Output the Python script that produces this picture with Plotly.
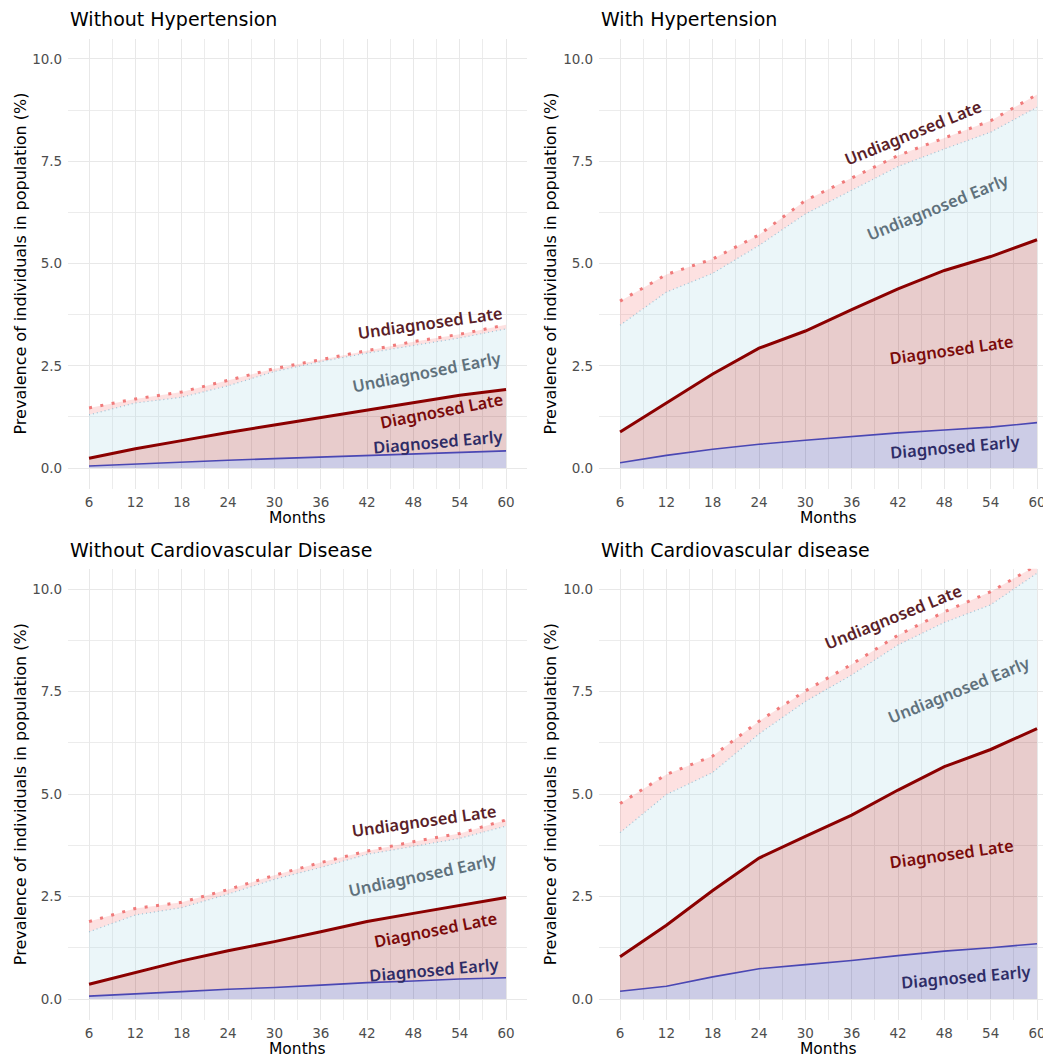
import plotly.graph_objects as go

# the page body has an 8px margin; positions below are screen pixels
OFF = 8
SCREEN_W, SCREEN_H = 1051, 1058
W, H = SCREEN_W - OFF, SCREEN_H - OFF

months = [6, 12, 18, 24, 30, 36, 42, 48, 54, 60]
x_ticks = [6, 12, 18, 24, 30, 36, 42, 48, 54, 60]
y_ticks = [0.0, 2.5, 5.0, 7.5, 10.0]
y_tick_text = ["0.0", "2.5", "5.0", "7.5", "10.0"]

panel_titles = ["Without Hypertension", "With Hypertension",
                "Without Cardiovascular Disease", "With Cardiovascular disease"]

categories = ["Diagnosed Early", "Diagnosed Late", "Undiagnosed Early", "Undiagnosed Late"]

# prevalence (%) of each category, per panel
no_htn_diag_early = [0.05, 0.10, 0.14, 0.19, 0.23, 0.27, 0.31, 0.35, 0.39, 0.42]
no_htn_diag_late = [0.19, 0.37, 0.53, 0.68, 0.82, 0.96, 1.11, 1.25, 1.39, 1.50]
no_htn_undiag_early = [1.06, 1.12, 1.06, 1.14, 1.31, 1.37, 1.39, 1.40, 1.40, 1.48]
no_htn_undiag_late = [0.17, 0.10, 0.13, 0.13, 0.07, 0.05, 0.06, 0.09, 0.09, 0.10]

htn_diag_early = [0.13, 0.31, 0.46, 0.58, 0.68, 0.77, 0.86, 0.93, 1.00, 1.11]
htn_diag_late = [0.75, 1.28, 1.84, 2.35, 2.67, 3.10, 3.52, 3.90, 4.17, 4.47]
htn_undiag_early = [2.61, 2.71, 2.46, 2.51, 2.86, 2.91, 2.99, 2.97, 3.04, 3.24]
htn_undiag_late = [0.59, 0.43, 0.35, 0.26, 0.33, 0.30, 0.27, 0.27, 0.28, 0.31]

no_cvd_diag_early = [0.07, 0.12, 0.18, 0.24, 0.28, 0.34, 0.40, 0.44, 0.49, 0.52]
no_cvd_diag_late = [0.29, 0.53, 0.75, 0.94, 1.12, 1.30, 1.49, 1.65, 1.80, 1.96]
no_cvd_undiag_early = [1.28, 1.40, 1.30, 1.38, 1.52, 1.57, 1.64, 1.64, 1.63, 1.74]
no_cvd_undiag_late = [0.25, 0.16, 0.13, 0.11, 0.10, 0.12, 0.08, 0.11, 0.12, 0.15]

cvd_diag_early = [0.19, 0.31, 0.54, 0.74, 0.84, 0.94, 1.06, 1.17, 1.25, 1.35]
cvd_diag_late = [0.84, 1.49, 2.11, 2.70, 3.13, 3.55, 4.04, 4.50, 4.84, 5.25]
cvd_undiag_early = [3.03, 3.19, 2.88, 3.03, 3.29, 3.42, 3.54, 3.52, 3.53, 3.79]
cvd_undiag_late = [0.71, 0.49, 0.40, 0.31, 0.26, 0.26, 0.24, 0.26, 0.32, 0.20]

panel_series = [
    [no_htn_diag_early, no_htn_diag_late, no_htn_undiag_early, no_htn_undiag_late],
    [htn_diag_early, htn_diag_late, htn_undiag_early, htn_undiag_late],
    [no_cvd_diag_early, no_cvd_diag_late, no_cvd_undiag_early, no_cvd_undiag_late],
    [cvd_diag_early, cvd_diag_late, cvd_undiag_early, cvd_undiag_late],
]

# label anchors (month, value) and angle, per panel and category
label_pos = [
    [(51.2, 0.65, -5), (51.6, 1.41, -11), (49.8, 2.36, -11), (50.2, 3.56, -8)],
    [(49.5, 0.53, -5), (48.9, 2.90, -8), (47.2, 6.39, -22), (43.9, 8.20, -22)],
    [(50.7, 0.73, -5), (50.8, 1.70, -11), (49.3, 3.04, -12), (49.4, 4.36, -8)],
    [(50.9, 0.55, -5), (48.9, 3.56, -8), (49.9, 7.56, -22), (41.4, 9.34, -22)],
]

fill_colors = ["rgba(0,0,128,0.2)", "rgba(139,0,0,0.2)",
               "rgba(173,216,230,0.24)", "rgba(245,120,120,0.22)"]
line_styles = [
    dict(color="#4a47b3", width=1.6),
    dict(color="#8b0000", width=3),
    dict(color="rgba(150,190,210,0.9)", width=1.2, dash="1px,3px"),
    dict(color="#f07b7b", width=3, dash="3px,8.5px"),
]
label_colors = ["#2e2c66", "#7a0a0a", "#5f717c", "#5a1e28"]

# layout geometry (screen pixels)
px_cols = [(68.2, 526.9), (599.2, 1051.0)]
full_col_right = [526.9, 1057.6]
x_ranges = [[3.3, 62.7], [3.3, 61.81]]
px_rows = [(38.5, 488.5), (568.8, 1019.5)]
y_range = [-0.5, 10.5]


def px_x(v):
    return (v - OFF) / W


def px_y(v):
    return 1 - (v - OFF) / H


fig = go.Figure()
annotations = []

for p in range(4):
    r, c = divmod(p, 2)
    idx = "" if p == 0 else str(p + 1)
    xa, ya = "x" + idx, "y" + idx
    for k in range(4):
        fig.add_trace(go.Scatter(
            x=months, y=panel_series[p][k], mode="lines",
            stackgroup="s%d" % p, fillcolor=fill_colors[k],
            line=line_styles[k], name=categories[k],
            xaxis=xa, yaxis=ya, showlegend=False, hoverinfo="skip"))
    for k in range(4):
        mx, vy, ang = label_pos[p][k]
        annotations.append(dict(
            x=mx, y=vy, xref=xa, yref=ya, text=categories[k], showarrow=False,
            textangle=ang, font=dict(family="Noto Sans", size=16.5, color=label_colors[k], weight=600),
            xanchor="center", yanchor="middle"))

    x0, x1 = px_cols[c]
    t, b = px_rows[r]
    axis_common = dict(showline=False, zeroline=False, ticks="",
                       tickfont=dict(family="DejaVu Sans", size=13.5, color="#4d4d4d"),
                       gridcolor="#e8e8e8", gridwidth=1.2)
    fig.layout["xaxis" + idx] = dict(
        axis_common, domain=[px_x(x0), min(1.0, px_x(x1))], range=x_ranges[c], anchor=ya,
        tickmode="array", tickvals=x_ticks, ticktext=[str(v) for v in x_ticks],
        minor=dict(tickmode="linear", tick0=3, dtick=6, showgrid=True, gridcolor="#ececec", gridwidth=1),
        ticklabelstandoff=4)
    fig.layout["yaxis" + idx] = dict(
        axis_common, domain=[px_y(b), px_y(t)], range=y_range, anchor=xa,
        tickmode="array", tickvals=y_ticks, ticktext=y_tick_text,
        minor=dict(tickmode="linear", tick0=1.25, dtick=2.5, showgrid=True, gridcolor="#ececec", gridwidth=1),
        ticklabelstandoff=5)

    # panel title
    annotations.append(dict(x=px_x(x0), y=px_y(t - 19), xref="paper", yref="paper",
                            text=panel_titles[p], showarrow=False, xanchor="left", yanchor="middle",
                            font=dict(family="DejaVu Sans", size=19, color="#000000")))
    # x-axis title (centered on the full panel width)
    annotations.append(dict(x=px_x((x0 + full_col_right[c]) / 2), y=px_y(b + 29), xref="paper", yref="paper",
                            text="Months", showarrow=False, xanchor="center", yanchor="middle",
                            font=dict(family="DejaVu Sans", size=15.5, color="#000000")))
    # y-axis title
    annotations.append(dict(x=px_x([20, 550][c]), y=px_y((t + b) / 2), xref="paper", yref="paper",
                            text="Prevalence of individuals in population (%)", showarrow=False,
                            textangle=-90, xanchor="center", yanchor="middle",
                            font=dict(family="DejaVu Sans", size=16, color="#000000")))

fig.update_layout(width=W, height=H, margin=dict(l=0, r=0, t=0, b=0),
                  paper_bgcolor="white", plot_bgcolor="white",
                  annotations=annotations, showlegend=False)

fig.write_html("out.html")
